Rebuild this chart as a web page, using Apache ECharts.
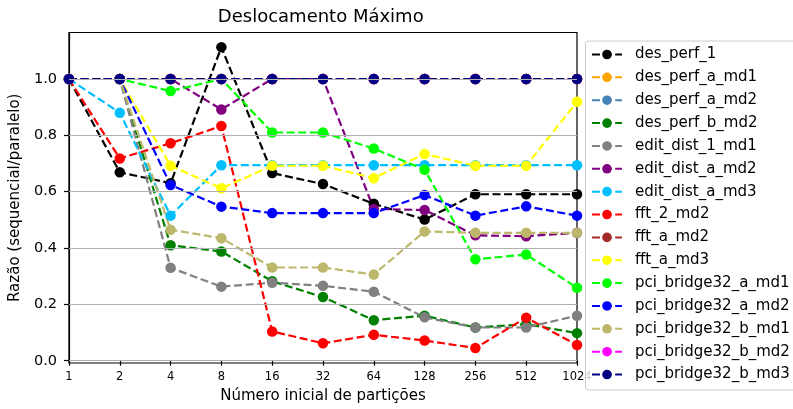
<!DOCTYPE html>
<html>
<head>
<meta charset="utf-8">
<script src="https://cdn.jsdelivr.net/npm/echarts@6/dist/echarts.min.js"></script>
<style>
html,body{margin:0;padding:0;background:#fff;}
#chart{width:793px;height:409px;}
</style>
</head>
<body>
<div id="chart"></div>
<script>
const categories = ['1','2','4','8','16','32','64','128','256','512','1024'];
const yTicks = [0.0, 0.2, 0.4, 0.6, 0.8, 1.0];

const desPerf1        = [1.0, 0.669, 0.630, 1.113, 0.666, 0.627, 0.557, 0.501, 0.591, 0.591, 0.591];
const desPerfAMd1     = [1.0, 1.0, 1.0, 1.0, 1.0, 1.0, 1.0, 1.0, 1.0, 1.0, 1.0];
const desPerfAMd2     = [1.0, 1.0, 1.0, 1.0, 1.0, 1.0, 1.0, 1.0, 1.0, 1.0, 1.0];
const desPerfBMd2     = [1.0, 1.0, 0.410, 0.388, 0.282, 0.226, 0.144, 0.160, 0.118, 0.130, 0.098];
const editDist1Md1    = [1.0, 1.0, 0.330, 0.263, 0.277, 0.266, 0.245, 0.154, 0.118, 0.118, 0.160];
const editDistAMd2    = [1.0, 1.0, 1.0, 0.892, 1.0, 1.0, 0.539, 0.535, 0.445, 0.442, 0.454];
const editDistAMd3    = [1.0, 0.880, 0.515, 0.694, 0.694, 0.694, 0.694, 0.694, 0.694, 0.694, 0.694];
const fft2Md2         = [1.0, 0.718, 0.772, 0.833, 0.104, 0.062, 0.092, 0.072, 0.045, 0.153, 0.056];
const fftAMd2         = [1.0, 1.0, 1.0, 1.0, 1.0, 1.0, 1.0, 1.0, 1.0, 1.0, 1.0];
const fftAMd3         = [1.0, 1.0, 0.692, 0.612, 0.692, 0.692, 0.648, 0.734, 0.692, 0.692, 0.919];
const pciBridgeAMd1   = [1.0, 1.0, 0.957, 1.0, 0.810, 0.810, 0.753, 0.678, 0.360, 0.377, 0.259];
const pciBridgeAMd2   = [1.0, 1.0, 0.624, 0.547, 0.524, 0.524, 0.524, 0.588, 0.515, 0.548, 0.515];
const pciBridgeBMd1   = [1.0, 1.0, 0.465, 0.435, 0.331, 0.331, 0.306, 0.459, 0.454, 0.454, 0.454];
const pciBridgeBMd2   = [1.0, 1.0, 1.0, 1.0, 1.0, 1.0, 1.0, 1.0, 1.0, 1.0, 1.0];
const pciBridgeBMd3   = [1.0, 1.0, 1.0, 1.0, 1.0, 1.0, 1.0, 1.0, 1.0, 1.0, 1.0];

const seriesNames = ['des_perf_1','des_perf_a_md1','des_perf_a_md2','des_perf_b_md2','edit_dist_1_md1',
  'edit_dist_a_md2','edit_dist_a_md3','fft_2_md2','fft_a_md2','fft_a_md3','pci_bridge32_a_md1',
  'pci_bridge32_a_md2','pci_bridge32_b_md1','pci_bridge32_b_md2','pci_bridge32_b_md3'];
const seriesValues = [desPerf1, desPerfAMd1, desPerfAMd2, desPerfBMd2, editDist1Md1, editDistAMd2,
  editDistAMd3, fft2Md2, fftAMd2, fftAMd3, pciBridgeAMd1, pciBridgeAMd2, pciBridgeBMd1, pciBridgeBMd2, pciBridgeBMd3];
const seriesColors = ['#000000','#FFA500','#4682B4','#008000','#808080','#800080','#00BFFF','#FF0000',
  '#A52A2A','#FFFF00','#00FF00','#0000FF','#BDB76B','#FF00FF','#000080'];

const FONT = 'DejaVu Sans';
const chart = echarts.init(document.getElementById('chart'), null, {renderer: 'canvas'});

const series = seriesNames.map((name, i) => ({
  name: name,
  type: 'line',
  data: seriesValues[i],
  symbol: 'circle',
  symbolSize: 10.5,
  showSymbol: true,
  clip: true,
  animation: false,
  z: 3,
  itemStyle: {color: seriesColors[i]},
  lineStyle: {color: seriesColors[i], width: 2.2, type: [8, 3.6]}
}));

series.unshift({
  name: '__grid',
  type: 'line',
  data: [],
  z: 1,
  silent: true,
  animation: false,
  markLine: {
    silent: true,
    symbol: 'none',
    animation: false,
    label: {show: false},
    lineStyle: {color: '#b0b0b0', width: 1.2, type: 'solid'},
    data: yTicks.map(v => ({yAxis: v}))
  }
});

chart.setOption({
  animation: false,
  backgroundColor: '#ffffff',
  textStyle: {fontFamily: FONT},
  title: {
    text: 'Deslocamento Máximo',
    left: 320.75,
    top: 8.5,
    padding: 0,
    textAlign: 'center',
    textStyle: {fontFamily: FONT, fontSize: 18, fontWeight: 'normal', color: '#000'}
  },
  legend: {
    data: seriesNames,
    orient: 'vertical',
    left: 585.5,
    top: 41,
    padding: [6, 30, 8, 5.5],
    itemWidth: 30,
    itemHeight: 12,
    itemGap: 7.86,
    borderColor: '#cccccc',
    borderWidth: 1,
    borderRadius: 3,
    backgroundColor: 'rgba(255,255,255,0.8)',
    textStyle: {fontFamily: FONT, fontSize: 15, color: '#000', padding: [0, 0, 0, 8]}
  },
  grid: {
    left: 64.5,
    right: 216,
    top: 32.5,
    bottom: 44,
    show: true,
    borderColor: '#000',
    borderWidth: 1.2,
    containLabel: false
  },
  xAxis: {
    type: 'category',
    data: categories,
    boundaryGap: false,
    name: 'Número inicial de partições',
    nameLocation: 'middle',
    nameGap: 26,
    nameTextStyle: {fontFamily: FONT, fontSize: 15, color: '#000'},
    axisLine: {lineStyle: {color: '#000', width: 1.2}},
    axisTick: {show: true, length: 5, lineStyle: {color: '#000', width: 1.2}},
    axisLabel: {fontFamily: FONT, fontSize: 11.5, color: '#000', margin: 8},
    splitLine: {show: false}
  },
  yAxis: {
    type: 'value',
    min: -0.008,
    max: 1.165,
    name: 'Razão (sequencial/paralelo)',
    nameLocation: 'middle',
    nameRotate: 90,
    nameGap: 40,
    nameTextStyle: {fontFamily: FONT, fontSize: 15, color: '#000'},
    axisLine: {show: true, lineStyle: {color: '#000', width: 1.2}},
    axisTick: {show: true, length: 5, lineStyle: {color: '#000', width: 1.2}, customValues: yTicks},
    axisLabel: {fontFamily: FONT, fontSize: 14.5, color: '#000', margin: 12,
      customValues: yTicks, formatter: v => Number(v).toFixed(1)},
    splitLine: {show: false}
  },
  series: series
});
</script>
</body>
</html>
